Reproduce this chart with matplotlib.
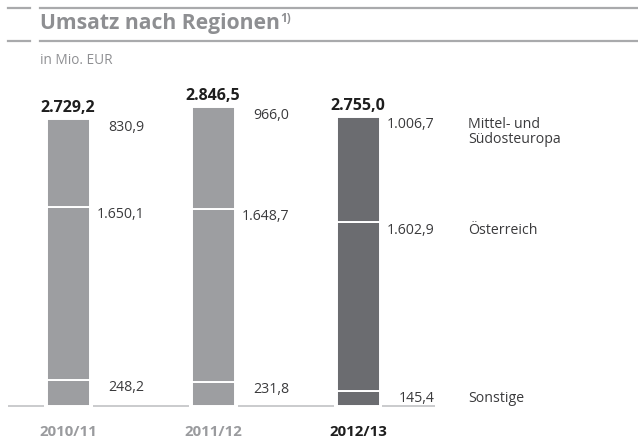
import matplotlib
matplotlib.use("Agg")
import matplotlib.pyplot as plt
from matplotlib.lines import Line2D
import numpy as np

plt.rcParams['font.family'] = ['Open Sans', 'DejaVu Sans']

years = ["2010/11", "2011/12", "2012/13"]
sonstige = [248.2, 231.8, 145.4]
oesterreich = [1650.1, 1648.7, 1602.9]
mittel_sued = [830.9, 966.0, 1006.7]
totals = [2729.2, 2846.5, 2755.0]
region_labels = ["Sonstige", "Österreich", "Mittel- und\nSüdosteuropa"]

def fmt(v):
    s = f"{v:,.1f}"
    return s.replace(",", "X").replace(".", ",").replace("X", ".")

W, H = 638, 439
fig = plt.figure(figsize=(W / 100, H / 100), dpi=100)

TEXT = "#3a3a3c"
LIGHT = "#9d9ea1"
DARK = "#6b6c70"
TITLE = "#8e8f92"
LINE = "#a9aaac"

px_per_unit_y = 0.105
y0_px = 407
ymax = 3000
ax_h = ymax * px_per_unit_y
ax = fig.add_axes([0, (H - y0_px) / H, 1, ax_h / H])
ax.set_ylim(0, ymax)
ax.set_xlim(-68 / 145, (W - 68) / 145)
ax.axis("off")

x = np.arange(len(years))
bw = 43 / 145
colors = [LIGHT, LIGHT, DARK]
series = [sonstige, oesterreich, mittel_sued]
bottom = np.zeros(len(years))
tops = []
for vals in series:
    ax.bar(x, vals, bw, bottom=bottom, color=colors, edgecolor="white", linewidth=1.4)
    bottom = bottom + np.array(vals)
    tops.append(bottom.copy())

gap = 3 / 145
left_px, right_px = 8, 435
edges = [(-68 + left_px) / 145]
for xi in x:
    edges += [xi - bw / 2 - gap, xi + bw / 2 + gap]
edges.append((right_px - 68) / 145)
for a, b in zip(edges[0::2], edges[1::2]):
    ax.plot([a, b], [0, 0], color="#c6c7c9", lw=1.3, solid_capstyle="butt", clip_on=False)

pt = 0.72
for si, vals in enumerate(series):
    for i, v in enumerate(vals):
        ax.annotate(fmt(v), xy=(x[i] + bw / 2, tops[si][i]),
                    xytext=(55 * pt, -7 * pt), textcoords="offset points",
                    ha="right", va="center", fontsize=10.2, color=TEXT)

for i, t in enumerate(totals):
    ax.annotate(fmt(t), xy=(x[i], t), xytext=(0, 12 * pt), textcoords="offset points",
                ha="center", va="center", fontsize=11.5, fontweight="bold", color="#1e1e1e")

lx = (468 - 68) / 145
for si, lab in enumerate(region_labels):
    y = tops[si][-1]
    if "\n" in lab:
        ax.annotate(lab, xy=(lx, y), xytext=(0, 1 * pt), textcoords="offset points",
                    ha="left", va="top", fontsize=10.2, color=TEXT, linespacing=1.0)
    else:
        ax.annotate(lab, xy=(lx, y), xytext=(0, -7 * pt), textcoords="offset points",
                    ha="left", va="center", fontsize=10.2, color=TEXT)

for i, yr in enumerate(years):
    ax.annotate(yr, xy=(x[i], 0), xytext=(0, -25 * pt), textcoords="offset points",
                ha="center", va="center", fontsize=10.8, fontweight="bold",
                color="#1e1e1e" if i == len(years) - 1 else "#9a9b9e")

def fy(py):
    return 1 - py / H

for yy in (9, 41.5):
    fig.add_artist(Line2D([8 / W, 30 / W], [fy(yy), fy(yy)], color=LINE, lw=1.6))
    fig.add_artist(Line2D([40 / W, 1], [fy(yy), fy(yy)], color=LINE, lw=1.6))

title = fig.text(40 / W, fy(24), "Umsatz nach Regionen", fontsize=15.2, fontweight="bold",
                 color=TITLE, ha="left", va="center")
fig.canvas.draw()
bb = title.get_window_extent()
fig.text((bb.x1 + 0.5) / W, fy(19), "1)", fontsize=8.5, fontweight="bold", color=TITLE,
         ha="left", va="center")
fig.text(40 / W, fy(60), "in Mio. EUR", fontsize=9.8, color=TITLE, ha="left", va="center")

fig.savefig("out.png", dpi=100)
